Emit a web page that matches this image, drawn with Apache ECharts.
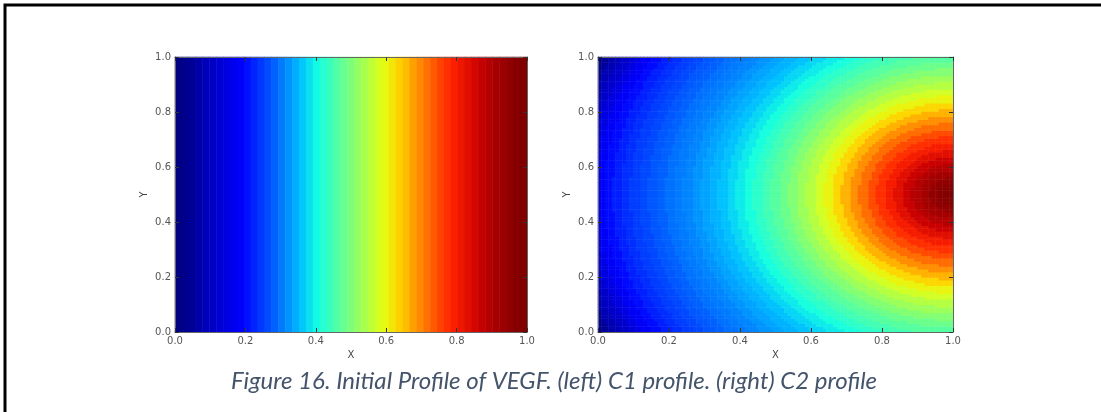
<!DOCTYPE html>
<html>
<head>
<meta charset="utf-8">
<script src="https://cdn.jsdelivr.net/npm/echarts@6/dist/echarts.min.js"></script>
<style>
    html, body { margin: 0; padding: 0; background: #fff; }
    #chart { width: 1101px; height: 412px; }
</style>
</head>
<body>
<div id="chart"></div>
<script>
    // tick values shown on both axes of both panels
    const axisTicks = [0, 0.2, 0.4, 0.6, 0.8, 1.0];

    // left panel: C1 only varies along X (read column by column)
    const c1X = [0, 0.02, 0.04, 0.06, 0.08, 0.10, 0.12, 0.14, 0.16, 0.18,
        0.20, 0.22, 0.24, 0.26, 0.28, 0.30, 0.32, 0.34, 0.36, 0.38,
        0.40, 0.42, 0.44, 0.46, 0.48, 0.50, 0.52, 0.54, 0.56, 0.58,
        0.60, 0.62, 0.64, 0.66, 0.68, 0.70, 0.72, 0.74, 0.76, 0.78,
        0.80, 0.82, 0.84, 0.86, 0.88, 0.90, 0.92, 0.94, 0.96, 0.98, 1.0];
    const c1Values = [0, 0.01, 0.02, 0.035, 0.05, 0.06, 0.075, 0.09, 0.105, 0.12,
        0.14, 0.16, 0.18, 0.20, 0.22, 0.245, 0.27, 0.295, 0.32, 0.345,
        0.37, 0.395, 0.42, 0.45, 0.475, 0.50, 0.53, 0.555, 0.58, 0.61,
        0.635, 0.66, 0.69, 0.71, 0.74, 0.765, 0.79, 0.815, 0.84, 0.86,
        0.88, 0.895, 0.91, 0.925, 0.94, 0.955, 0.965, 0.975, 0.985, 0.995, 1.0];

    // right panel: C2 read along the distance from the source at (1, 0.5)
    const c2Source = [1.0, 0.5];
    const c2RadiusStep = 0.025;
    const c2Profile = [1.00, 0.995, 0.985, 0.97, 0.955, 0.935, 0.91, 0.885, 0.86, 0.83,
        0.795, 0.76, 0.72, 0.68, 0.64, 0.605, 0.57, 0.54, 0.51, 0.48,
        0.455, 0.43, 0.405, 0.38, 0.355, 0.335, 0.315, 0.30, 0.285, 0.27,
        0.255, 0.245, 0.235, 0.22, 0.21, 0.195, 0.185, 0.17, 0.155, 0.135,
        0.115, 0.09, 0.065, 0.045, 0.02, 0.0];

    const caption = 'Figure 16. Initial Profile of VEGF. (left) C1 profile. (right) C2 profile';

    // jet colour map
    const jet = ['#000080', '#0000c8', '#0000ff', '#0040ff', '#0080ff', '#00bfff',
        '#14ffe2', '#48ffaf', '#7bff7b', '#afff48', '#e2ff14', '#ffd200',
        '#ff9700', '#ff5c00', '#ff2100', '#c80000', '#800000'];

    // heatmap tables
    const c1Data = c1Values.map((v, i) => [i, 0, v]);

    const c2Res = 101;
    const c2Pos = [];
    for (let i = 0; i < c2Res; i++) c2Pos.push(i / (c2Res - 1));
    const c2Data = [];
    c2Pos.forEach((x, i) => {
        c2Pos.forEach((y, j) => {
            let r = Math.hypot(c2Source[0] - x, c2Source[1] - y);
            let k = Math.min(c2Profile.length - 1, Math.round(r / c2RadiusStep));
            c2Data.push([i, j, c2Profile[k]]);
        });
    });

    const grids = [
        {left: 175, top: 57, width: 352, height: 275},
        {left: 598, top: 57, width: 355, height: 275}
    ];

    const tickFont = {fontFamily: 'DejaVu Sans', fontSize: 10, color: '#555'};
    const frameLine = {show: true, lineStyle: {color: '#666', width: 1}};
    const tick = {show: true, inside: true, length: 4, lineStyle: {color: '#333'}};
    const fmt = v => v.toFixed(1);

    function valueAxis(gridIndex, position, showLabels, name, nameGap) {
        return {
            type: 'value', gridIndex: gridIndex, position: position,
            min: axisTicks[0], max: axisTicks[axisTicks.length - 1], interval: 0.2,
            axisLine: frameLine, axisTick: tick, splitLine: {show: false},
            axisLabel: Object.assign({show: showLabels, formatter: fmt, margin: 4}, tickFont),
            name: name, nameLocation: 'middle', nameGap: nameGap,
            nameTextStyle: {fontFamily: 'DejaVu Sans', fontSize: 10, color: '#444'},
            z: 5
        }
    }

    let xAxis = [], yAxis = [];
    [0, 1].forEach(g => {
        let nx = g === 0 ? c1X.length : c2Res;
        let ny = g === 0 ? 1 : c2Res;
        xAxis.push({type: 'category', gridIndex: g, show: false,
            data: Array.from({length: nx}, (_, i) => i)});
        yAxis.push({type: 'category', gridIndex: g, show: false,
            data: Array.from({length: ny}, (_, i) => i)});
        xAxis.push(valueAxis(g, 'bottom', true, 'X', 17));
        xAxis.push(valueAxis(g, 'top', false, '', 0));
        yAxis.push(valueAxis(g, 'left', true, 'Y', 26));
        yAxis.push(valueAxis(g, 'right', false, '', 0));
    });

    let chart = echarts.init(document.getElementById('chart'));
    let option = {
        animation: false,
        grid: grids,
        xAxis: xAxis,
        yAxis: yAxis,
        visualMap: {
            show: false, type: 'continuous', min: 0, max: 1,
            seriesIndex: [0, 1], inRange: {color: jet}
        },
        series: [{
            type: 'heatmap', xAxisIndex: 0, yAxisIndex: 0,
            data: c1Data, progressive: 0, emphasis: {disabled: true}
        }, {
            type: 'heatmap', xAxisIndex: 3, yAxisIndex: 3,
            data: c2Data, progressive: 0, emphasis: {disabled: true}
        }],
        graphic: [{
            type: 'polyline', silent: true,
            shape: {points: [[5, 412], [5, 5], [1101, 5]]},
            style: {stroke: '#000', lineWidth: 3, fill: null}
        }, {
            type: 'text', x: 554, y: 369, silent: true,
            style: {
                text: caption, fill: '#44546a', align: 'center',
                font: 'italic 24px Lato'
            }
        }]
    };
    chart.setOption(option);
</script>
</body>
</html>
